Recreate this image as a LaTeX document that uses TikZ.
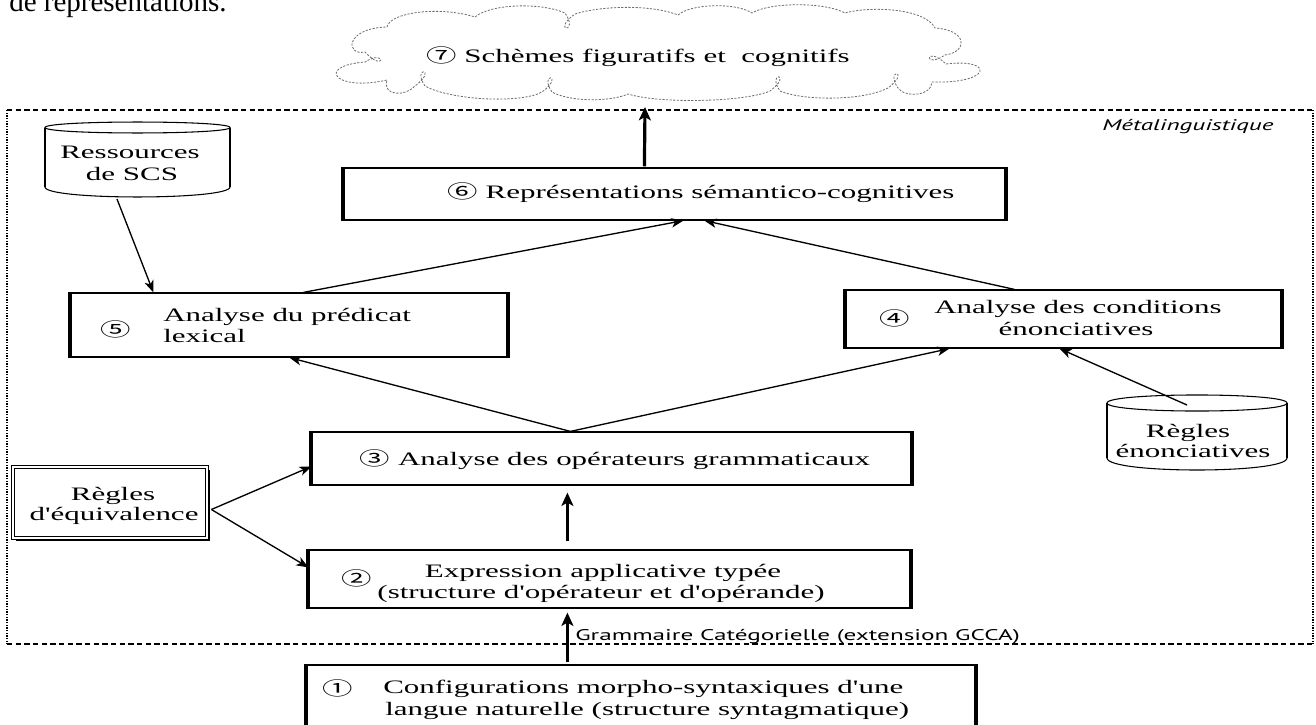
\documentclass[tikz,border=0pt]{standalone}
\usepackage{fontspec}
\usepackage{graphicx}
\setmainfont{Liberation Serif}
\newfontfamily\circf{Noto Sans CJK SC}
\newfontfamily\ptsans{PT Sans}
\usetikzlibrary{arrows.meta,calc,shadows}
\newcommand\hs[1]{\scalebox{1.63}[1]{#1}}
\newcommand\cn[1]{{\circf\fontsize{14}{14}\selectfont #1}}
\newcommand\ap{\XeTeXglyph\XeTeXcharglyph39\relax}
\newcommand\thicksides[1]{\draw[line width=3pt] (#1.north west)--(#1.south west) (#1.north east)--(#1.south east);}
\begin{document}
\begin{tikzpicture}[x=0.75pt,y=-0.75pt,
  txt/.style={inner sep=0pt, font=\fontsize{14.25}{16}\selectfont},
  bx/.style={draw, line width=0.9pt, inner sep=0pt, fill=white},
  thinarrow/.style={line width=1pt, -{Stealth[length=9pt,width=7pt,inset=2.5pt]}},
  thickarrow/.style={line width=2.4pt, -{Stealth[length=10pt,width=9pt,inset=2.5pt]}},
  framedash/.style={line width=0.8pt, dash pattern=on 4pt off 2.5pt},
  framedot/.style={line width=1.6pt, dash pattern=on 1pt off 1pt},
  clouddash/.style={draw=gray!85!black, line width=0.6pt, dash pattern=on 1.6pt off 1.1pt},
]
\useasboundingbox (0,0) rectangle (1316,724);
\fill[white] (0,0) rectangle (1316,724);

% page text fragment
\node[inner sep=0pt, anchor=base west, font=\fontsize{21.75}{24}\selectfont] (pg) at (9,12) {de représentations.};

% cloud
\draw[clouddash] (387,27)
  .. controls (390,12) and (440,6) .. (475,17)
  .. controls (490,4) and (540,2) .. (565,13)
  .. controls (580,34) and (550,32) .. (575,14)
  .. controls (600,6) and (650,4) .. (678,15)
  .. controls (690,4) and (735,2) .. (752,13)
  .. controls (770,2) and (825,2) .. (845,13)
  .. controls (870,6) and (925,8) .. (935,28)
  .. controls (968,30) and (968,52) .. (945,55)
  .. controls (923,70) and (925,44) .. (946,64)
  .. controls (995,58) and (992,84) .. (932,82)
  .. controls (932,96) and (905,98) .. (898,88)
  .. controls (884,68) and (912,70) .. (888,88)
  .. controls (860,102) and (800,100) .. (780,91)
  .. controls (766,71) and (794,73) .. (770,91)
  .. controls (745,102) and (660,104) .. (628,94)
  .. controls (610,102) and (570,102) .. (552,92)
  .. controls (538,72) and (566,74) .. (542,92)
  .. controls (520,104) and (450,100) .. (425,86)
  .. controls (411,66) and (439,68) .. (415,86)
  .. controls (405,97) and (382,96) .. (387,80)
  .. controls (335,92) and (315,66) .. (365,62)
  .. controls (387,48) and (385,74) .. (365,52)
  .. controls (345,56) and (345,28) .. (387,27) -- cycle;
\node[txt, anchor=base] (t7) at (638,63) {\hs{\cn{⑦} Schèmes figuratifs et\ \ cognitifs}};
\coordinate (ctip) at (645,107);

% frame
\coordinate (fTL) at (7,110);
\coordinate (fTR) at (1313,110);
\coordinate (fBR) at (1313,644);
\coordinate (fBL) at (7,644);
\draw[framedash] (fTL) -- (fTR) (fBL) -- (fBR);
\draw[framedot] (fTL) -- (fBL) (fTR) -- (fBR);
\node[inner sep=0pt, anchor=base west, font=\ptsans\itshape\fontsize{11.6}{13}\selectfont] (meta) at (1102,130) {\hs{Métalinguistique}};
\node[inner sep=0pt, anchor=base west, font=\ptsans\fontsize{11.6}{13}\selectfont] (gcca) at (575,640) {\hs{Grammaire Catégorielle (extension GCCA)}};

% boxes
\node[bx, minimum width=495.75pt, minimum height=39pt] (b6) at (674.5,194) {};
\thicksides{b6}
\node[txt, anchor=base] (t6) at (701,198) {\hs{\cn{⑥} Représentations sémantico-cognitives}};

\node[bx, minimum width=327pt, minimum height=48pt] (b5) at (289,325) {};
\thicksides{b5}
\node[txt] (n5) at (116,329) {\hs{\cn{⑤}}};
\node[txt, anchor=base west] (t5a) at (163,321) {\hs{Analyse du prédicat}};
\node[txt, anchor=base west] (t5b) at (163,342) {\hs{lexical}};

\node[bx, minimum width=326.25pt, minimum height=43.5pt] (b4) at (1063.5,319) {};
\thicksides{b4}
\node[txt] (n4) at (895,318) {\hs{\cn{④}}};
\node[txt, anchor=base] (t4a) at (1078,313) {\hs{Analyse des conditions}};
\node[txt, anchor=base] (t4b) at (1076,335) {\hs{énonciatives}};

\node[bx, minimum width=449.25pt, minimum height=39.75pt] (b3) at (611.5,458.5) {};
\thicksides{b3}
\node[txt, anchor=base] (t3) at (615,465) {\hs{\cn{③} Analyse des opérateurs grammaticaux}};

\node[bx, minimum width=450.75pt, minimum height=43.5pt] (b2) at (609.5,579) {};
\thicksides{b2}
\node[txt] (n2) at (357,578) {\hs{\cn{②}}};
\node[txt, anchor=base] (t2a) at (603,577) {\hs{Expression applicative typée}};
\node[txt, anchor=base] (t2b) at (601,598) {\hs{(structure d\ap opérateur et d\ap opérande)}};

\node[bx, minimum width=501pt, minimum height=48.75pt] (b1) at (641,697.5) {};
\thicksides{b1}
\node[txt] (n1) at (338,688) {\hs{\cn{①}}};
\node[txt, anchor=base west] (t1a) at (383,693) {\hs{Configurations morpho-syntaxiques d\ap une}};
\node[txt, anchor=base west] (t1b) at (385,715) {\hs{langue naturelle (structure syntagmatique)}};

% cylinder: Ressources de SCS
\draw[line width=0.8pt, fill=white] (45,127.5) .. controls (45,120.2) and (230,120.2) .. (230,127.5) -- (230,187) .. controls (230,200.3) and (45,200.3) .. (45,187) -- cycle;
\draw[line width=0.8pt] (45,127.5) .. controls (45,134.8) and (230,134.8) .. (230,127.5);
\draw[line width=2.2pt] (45,127.5) -- (45,187) (230,127.5) -- (230,187);
\node[txt, anchor=base] (res1) at (130,158) {\hs{Ressources}};
\node[txt, anchor=base] (res2) at (132,180) {\hs{de SCS}};
\coordinate (resb) at (117,199);

% cylinder: Règles énonciatives
\draw[line width=0.8pt, fill=white] (1107,403) .. controls (1107,392.3) and (1287,392.3) .. (1287,403) -- (1287,458) .. controls (1287,474) and (1107,474) .. (1107,458) -- cycle;
\draw[line width=0.8pt] (1107,403) .. controls (1107,413.7) and (1287,413.7) .. (1287,403);
\draw[line width=2.2pt] (1107,403) -- (1107,458) (1287,403) -- (1287,458);
\node[txt, anchor=base] (ren1) at (1188,437) {\hs{Règles}};
\node[txt, anchor=base] (ren2) at (1193,457) {\hs{énonciatives}};
\coordinate (rent) at (1187,405);

% Règles d'équivalence
\node[draw, double, double distance=1.6pt, line width=0.6pt, fill=white,
      minimum width=145.5pt, minimum height=53.25pt, inner sep=0pt,
      drop shadow={shadow xshift=2.5pt, shadow yshift=-2.5pt, fill=black, opacity=1}] (req) at (110,502.5) {};
\node[txt, anchor=base] (req1) at (113,500) {\hs{Règles}};
\node[txt, anchor=base] (req2) at (114,520) {\hs{d\ap équivalence}};
\coordinate (reqo) at ($(req.east)+(4,7)$);

% connectors
\draw[thinarrow] (resb) -- ($(b5.north west)+(83,0)$);
\draw[thinarrow] ($(b5.north west)+(233,0)$) -- ($(b6.south west)+(340,0)$);
\draw[thinarrow] ($(b4.north west)+(169,0)$) -- ($(b6.south west)+(361,0)$);
\draw[thinarrow] ($(b3.north west)+(259,0)$) -- ($(b5.south west)+(219,0)$);
\draw[thinarrow] ($(b3.north west)+(259,0)$) -- ($(b4.south west)+(104,0)$);
\draw[thinarrow] (rent) -- ($(b4.south west)+(214,0)$);
\draw[thinarrow] (reqo) -- ($(b3.north west)+(0,35)$);
\draw[thinarrow] (reqo) -- ($(b2.north west)+(0,18)$);
\draw[thickarrow] ($(b2.north west)+(259,-8)$) -- ($(b3.south west)+(256,7)$);
\draw[thickarrow] ($(b1.north west)+(261,-2)$) -- ($(b2.south west)+(259,4)$);
\draw[thickarrow] ($(b6.north west)+(301,-1)$) -- (ctip);
\end{tikzpicture}
\end{document}
